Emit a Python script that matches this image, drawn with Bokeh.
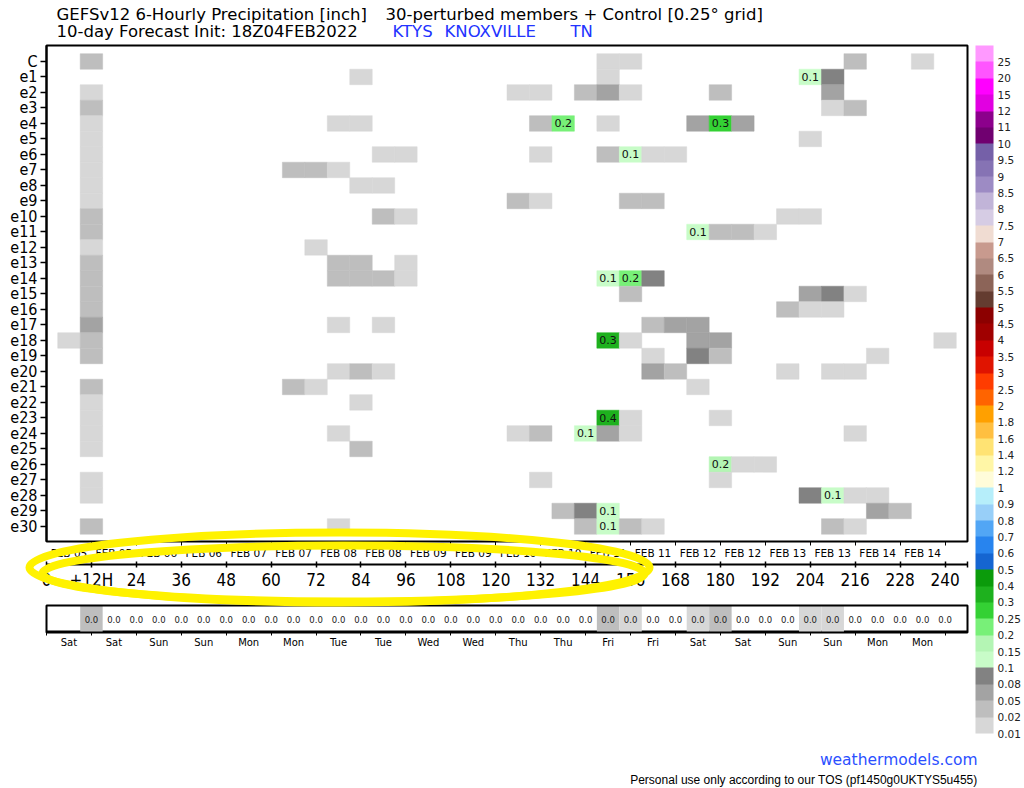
import numpy as np
from bokeh.plotting import figure
from bokeh.models import (Range1d, LinearAxis, FixedTicker, ColumnDataSource,
                          LinearColorMapper, ColorBar)
from bokeh.core.properties import value
from bokeh.embed import file_html
from bokeh.resources import INLINE

# ---------------- data ----------------
members = ["C"] + [f"e{i}" for i in range(1, 31)]

# forecast hour of each non-empty 6-hourly cell, per member (row order as members)
cell_hours = [
    [12, 150, 156, 216, 234],
    [84, 150, 204, 210],
    [12, 126, 132, 144, 150, 156, 180, 210],
    [12, 210, 216],
    [12, 78, 84, 132, 138, 150, 174, 180, 186],
    [12, 204],
    [12, 90, 96, 132, 150, 156, 162, 168],
    [12, 66, 72, 78],
    [12, 84, 90],
    [12, 126, 132, 156, 162],
    [12, 90, 96, 198, 204],
    [12, 174, 180, 186, 192],
    [12, 72],
    [12, 78, 84, 96],
    [12, 78, 84, 90, 96, 150, 156, 162],
    [12, 156, 204, 210, 216],
    [12, 198, 204, 210],
    [12, 78, 90, 162, 168, 174],
    [6, 12, 150, 156, 174, 180, 240],
    [12, 162, 174, 180, 222],
    [78, 84, 90, 162, 168, 198, 210, 216],
    [12, 66, 72, 174],
    [12, 84],
    [12, 150, 156, 180],
    [12, 78, 126, 132, 144, 150, 156, 216],
    [12, 84],
    [180, 186, 192],
    [12, 132, 180],
    [12, 204, 210, 216, 222],
    [138, 144, 150, 222, 228],
    [12, 78, 144, 150, 156, 162, 210, 216],
]
# 6-hourly precipitation [inch] of those cells
cell_values = [
    [.03, .015, .015, .03, .015],
    [.015, .015, .12, .09],
    [.015, .015, .015, .03, .06, .015, .03, .06],
    [.03, .015, .03],
    [.015, .015, .015, .03, .22, .015, .06, .28, .06],
    [.015, .015],
    [.015, .015, .015, .015, .03, .12, .015, .015],
    [.015, .03, .03, .015],
    [.015, .015, .015],
    [.015, .03, .015, .03, .03],
    [.03, .03, .015, .015, .015],
    [.03, .12, .03, .03, .015],
    [.015, .015],
    [.03, .03, .03, .015],
    [.03, .03, .03, .03, .015, .12, .22, .09],
    [.03, .03, .06, .09, .015],
    [.03, .03, .015, .015],
    [.06, .015, .015, .03, .06, .06],
    [.015, .03, .32, .015, .06, .06, .015],
    [.03, .015, .09, .03, .015],
    [.015, .03, .015, .06, .03, .015, .015, .015],
    [.03, .03, .015, .015],
    [.015, .015],
    [.015, .36, .015, .015],
    [.015, .015, .015, .03, .12, .06, .015, .015],
    [.015, .03],
    [.18, .015, .015],
    [.015, .015, .015],
    [.015, .09, .12, .015, .015],
    [.03, .09, .12, .06, .03],
    [.03, .015, .03, .12, .03, .015, .03, .015],
]

# ensemble-mean row (hours 12..240)
mean_hours = list(range(12, 241, 6))
mean_values = [0.021, 0, 0, 0, 0, 0, 0, 0, 0, 0.002, 0.003, 0.005, 0.005, 0.004,
               0.002, 0, 0, 0, 0, 0.002, 0.004, 0.008, 0.009, 0.040, 0.016, 0.008,
               0.004, 0.013, 0.021, 0.003, 0.001, 0.002, 0.011, 0.014, 0.004,
               0.003, 0.001, 0.0005, 0.0005]

hour_ticks = list(range(0, 241, 12))
hour_labels = ["0", "+12H"] + [str(h) for h in range(24, 241, 12)]
date_hours = list(range(6, 235, 12))
date_labels = ["FEB 05", "FEB 05", "FEB 06", "FEB 06", "FEB 07", "FEB 07",
               "FEB 08", "FEB 08", "FEB 09", "FEB 09", "FEB 10", "FEB 10",
               "FEB 11", "FEB 11", "FEB 12", "FEB 12", "FEB 13", "FEB 13",
               "FEB 14", "FEB 14"]
day_labels = ["Sat", "Sat", "Sun", "Sun", "Mon", "Mon", "Tue", "Tue", "Wed", "Wed",
              "Thu", "Thu", "Fri", "Fri", "Sat", "Sat", "Sun", "Sun", "Mon", "Mon"]

levels = [0.01, 0.02, 0.05, 0.08, 0.1, 0.15, 0.2, 0.25, 0.3, 0.4, 0.5, 0.6, 0.7,
          0.8, 0.9, 1, 1.2, 1.4, 1.6, 1.8, 2, 2.5, 3, 3.5, 4, 4.5, 5, 5.5, 6, 6.5,
          7, 7.5, 8, 8.5, 9, 9.5, 10, 11, 12, 15, 20, 25]
palette = ["#d7d7d7", "#bebebe", "#a3a3a3", "#828282", "#c8fcc8", "#b4f5b4",
           "#78f078", "#34d134", "#1eb11e", "#0b9b0b", "#1565d1", "#2884ee",
           "#52a6f5", "#98cff8", "#b6eefa", "#fffcd9", "#fff6a6", "#ffe373",
           "#ffbf40", "#ffa000", "#ff6400", "#ff3c00", "#e01400", "#c80000",
           "#a00000", "#8c0000", "#643c30", "#8c6458", "#b08a80", "#c89a8e",
           "#f0dcd2", "#d6cce4", "#c1b4d8", "#9d8bc4", "#8673b4", "#7560a8",
           "#700070", "#8c008c", "#e100e1", "#ff00ff", "#ff55ff", "#ff99ff"]

FONT = "DejaVu Sans"
COND = "DejaVu Sans Condensed"

# ---------------- figure ----------------
p = figure(width=1024, height=788, x_range=Range1d(0, 246), y_range=Range1d(30.97, -1.03),
           output_backend="svg", toolbar_location=None,
           x_axis_location=None, y_axis_location=None,
           min_border_left=46, min_border_right=57, min_border_top=45, min_border_bottom=247)
p.grid.visible = False
p.outline_line_color = "black"
p.outline_line_width = 2
p.background_fill_color = "white"
p.border_fill_color = "white"
p.extra_x_ranges = {"px": Range1d(46, 967)}
p.extra_y_ranges = {"py": Range1d(541, 45)}

mapper = LinearColorMapper(palette=palette, low=0, high=len(palette))

def level_of(v):
    return np.searchsorted(levels, np.asarray(v, dtype=float), side="right") - 1 + 0.5

rows, hrs, vals = [], [], []
for r, (hh, vv) in enumerate(zip(cell_hours, cell_values)):
    rows += [r] * len(hh)
    hrs += hh
    vals += vv
vals = np.array(vals)
src = ColumnDataSource(dict(x=hrs, y=rows, lev=level_of(vals)))
p.rect(x="x", y="y", width=6, height=1, source=src,
       fill_color={"field": "lev", "transform": mapper},
       line_color={"field": "lev", "transform": mapper}, line_width=0.5)

big = vals >= 0.1
lab_src = ColumnDataSource(dict(x=np.array(hrs)[big], y=np.array(rows)[big],
                                t=[f"{v:.1f}" for v in vals[big]]))
p.text(x="x", y="y", text="t", source=lab_src, text_align="center",
       text_baseline="middle", text_font=value(FONT), text_font_size="11px",
       text_color="#111111")

# left axis: members
ya = LinearAxis(ticker=FixedTicker(ticks=list(range(len(members)))),
                major_label_overrides={i: m for i, m in enumerate(members)})
ya.axis_line_width = 2
ya.major_tick_out = 6
ya.major_tick_in = 0
ya.major_tick_line_width = 1.5
ya.minor_tick_line_color = None
ya.major_label_standoff = 3
ya.major_label_text_font = COND
ya.major_label_text_font_size = "16px"
ya.major_label_text_color = "black"
p.add_layout(ya, "left")

# date axis
da = LinearAxis(ticker=FixedTicker(ticks=date_hours, minor_ticks=hour_ticks[1:]),
                major_label_overrides=dict(zip(date_hours, date_labels)))
da.axis_line_color = None
da.major_tick_line_color = None
da.major_tick_out = 4
da.major_tick_in = 0
da.minor_tick_line_color = "black"
da.minor_tick_out = 4
da.minor_tick_in = 0
da.major_label_standoff = 1
da.major_label_text_font = FONT
da.major_label_text_font_size = "10.5px"
da.major_label_text_color = "black"
da.axis_label = " "
da.axis_label_text_font_size = "4px"
da.axis_label_standoff = -5
p.add_layout(da, "below")

# hours axis
ha = LinearAxis(ticker=FixedTicker(ticks=hour_ticks + [246]),
                major_label_overrides={**dict(zip(hour_ticks, hour_labels)), 246: ""})
ha.axis_line_width = 2
ha.major_tick_in = 3
ha.major_tick_out = 3
ha.major_tick_line_width = 1.5
ha.minor_tick_line_color = None
ha.major_label_standoff = 2
ha.major_label_text_font = COND
ha.major_label_text_font_size = "17px"
ha.major_label_text_color = "black"
ha.axis_label = " "
ha.axis_label_text_font_size = "10px"
ha.axis_label_standoff = 25
p.add_layout(ha, "below")

# day-of-week axis (bottom of mean box)
wa = LinearAxis(ticker=FixedTicker(ticks=date_hours, minor_ticks=hour_ticks),
                major_label_overrides=dict(zip(date_hours, day_labels)))
wa.axis_line_width = 2
wa.major_tick_line_color = None
wa.major_tick_out = 4
wa.major_tick_in = 0
wa.minor_tick_line_color = "black"
wa.minor_tick_out = 4
wa.minor_tick_in = 0
wa.major_label_standoff = 1
wa.major_label_text_font = FONT
wa.major_label_text_font_size = "10px"
wa.major_label_text_color = "black"
p.add_layout(wa, "below")

# ensemble mean row
mv = np.array(mean_values)
mh = np.array(mean_hours)
sh = mv >= 0.01
p.quad(left=mh[sh] - 3, right=mh[sh] + 3, top=605, bottom=632, y_range_name="py",
       fill_color=[palette[int(l)] for l in level_of(mv[sh])], line_color=None,
       level="overlay")
p.quad(left=0, right=246, top=605, bottom=632, y_range_name="py", fill_color=None,
       line_color="black", line_width=2, level="overlay")
p.text(x=mean_hours, y=[619] * len(mean_hours), text=[f"{v:.1f}" for v in mean_values],
       y_range_name="py", level="overlay", text_align="center", text_baseline="middle",
       text_font=value(FONT), text_font_size="8.5px", text_color="#222222")

# colour bar
cb = ColorBar(color_mapper=mapper, ticker=FixedTicker(ticks=list(range(len(levels)))),
              major_label_overrides={i: f"{lv:g}" for i, lv in enumerate(levels)},
              width=18, height=688, location=(929, -192), padding=0,
              bar_line_color=None, border_line_color=None, background_fill_color=None,
              major_tick_line_color=None, label_standoff=4,
              major_label_text_font=FONT, major_label_text_font_size="10.5px",
              major_label_text_color="#222222")
p.add_layout(cb)

# titles / footer
def txt(x, y, s, size, color="black", font=FONT, align="left"):
    p.text(x=[x], y=[y], text=[s], x_range_name="px", y_range_name="py", level="overlay",
           text_align=align, text_baseline="middle", text_font=value(font),
           text_font_size=size, text_color=color)

txt(56, 14, "GEFSv12 6-Hourly Precipitation [inch]", "16.5px")
txt(385, 14, "30-perturbed members + Control [0.25° grid]", "16.5px")
txt(56, 31, "10-day Forecast Init: 18Z04FEB2022", "16.5px")
txt(392, 31, "KTYS", "16.5px", color="#2233ff")
txt(444, 31, "KNOXVILLE", "16.5px", color="#2233ff")
txt(570, 31, "TN", "16.5px", color="#2233ff")
txt(977, 759, "weathermodels.com", "15.5px", color="#2b50ff", align="right")
txt(977, 779, "Personal use only according to our TOS (pf1450g0UKTYS5u455)", "12px",
    font="Liberation Sans", align="right")

# yellow highlight strokes
p.ellipse(x=[339, 343], y=[567, 573], width=[620, 602], height=[70, 56],
          x_range_name="px", y_range_name="py", fill_color=None,
          line_color="#fff200", line_width=8, level="overlay")

open("out.html", "w").write(file_html(p, INLINE))
